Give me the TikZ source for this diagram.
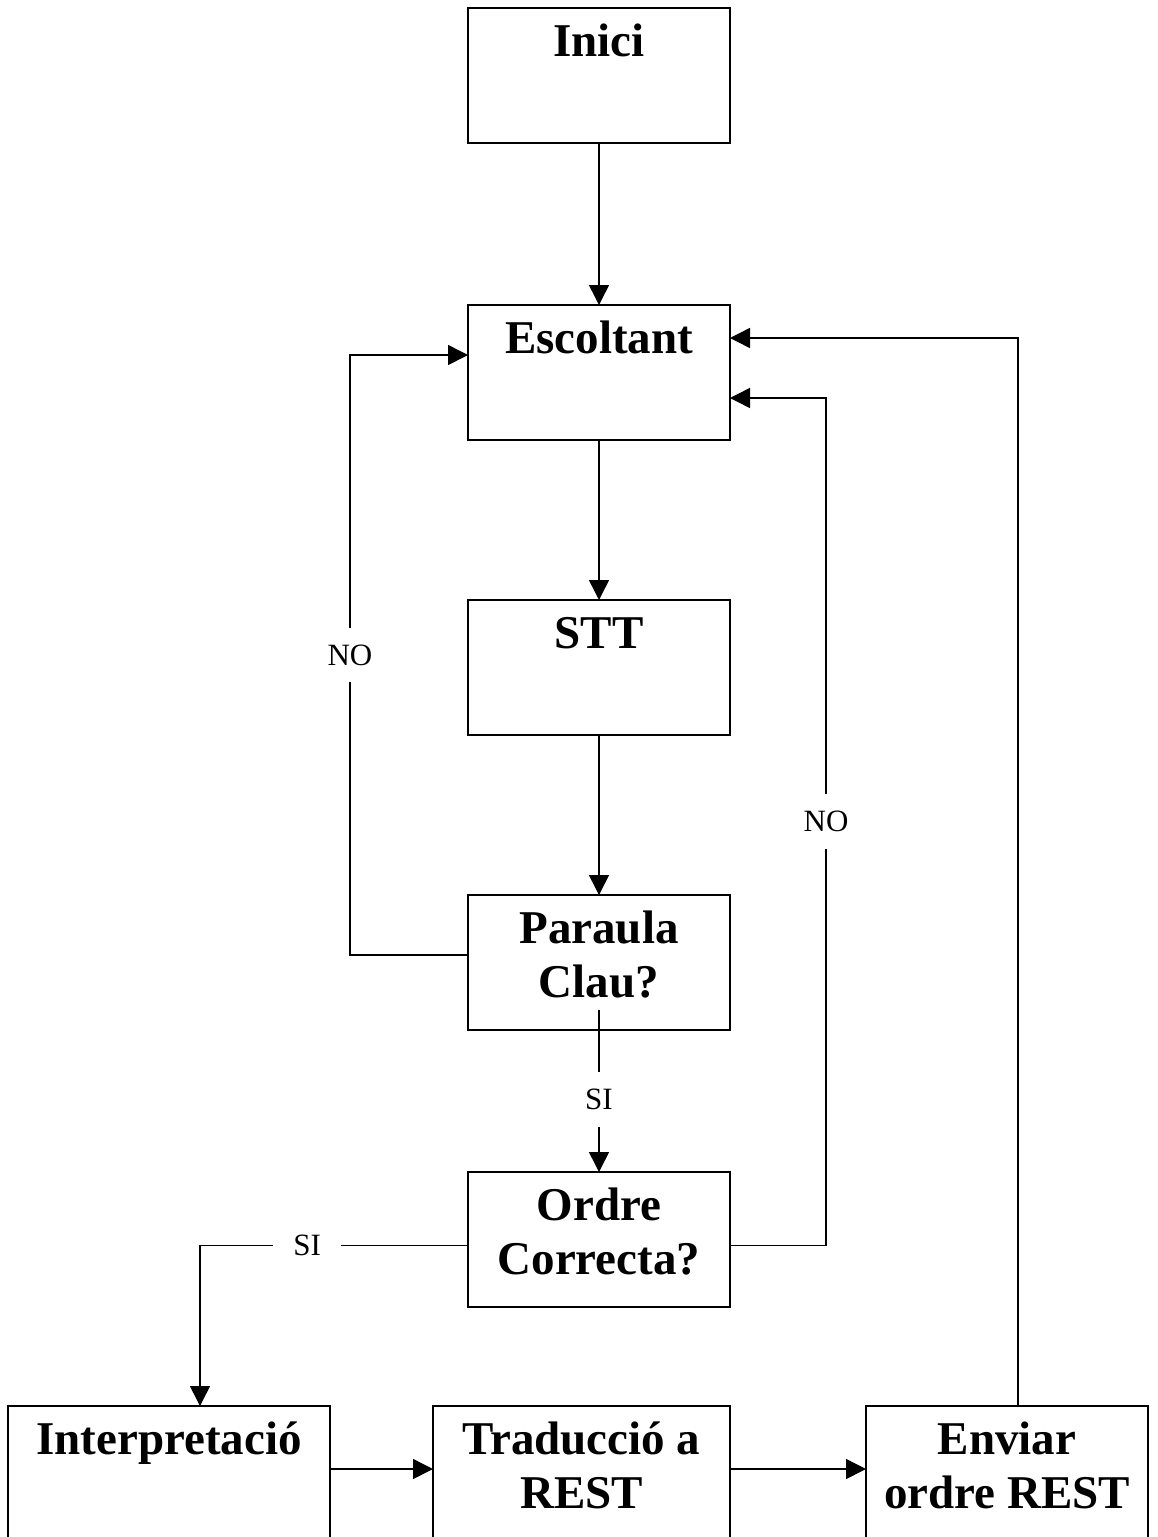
\documentclass[tikz,border=0pt]{standalone}
\usepackage{fontspec}
\setmainfont{Liberation Serif}
\usetikzlibrary{arrows.meta,positioning}
\newcommand{\vcstage}[2][250pt]{\parbox[c][135pt][t]{#1}{\centering\rule{0pt}{48pt}#2}}
\tikzset{
  vcbox/.style={
    draw=black,
    line width=1.9pt,
    inner sep=0pt,
    outer sep=0pt,
    minimum width=262pt,
    minimum height=135pt,
    font=\bfseries\fontsize{47}{54}\selectfont
  },
  vclabel/.style={
    fill=white,
    inner xsep=20pt,
    inner ysep=17pt,
    font=\fontsize{31}{34}\selectfont
  },
  vcarrow/.style={-{Triangle[length=20pt,width=20pt]},line width=1.5pt,draw=black}
}

\begin{document}
\begin{tikzpicture}[node distance=160pt]
    \useasboundingbox (0,0) rectangle (1157pt,-1537pt);
    \node[vcbox] (inici) at (599pt,-75.5pt) {\vcstage{Inici}};
    \node[vcbox,below=162pt of inici] (escoltant) {\vcstage{Escoltant}};
    \node[vcbox,below=of escoltant] (stt) {\vcstage{STT}};
    \node[vcbox,below=of stt] (paraula) {\vcstage{Paraula\\Clau?}};
    \node[vcbox,below=142pt of paraula] (ordre) {\vcstage{Ordre\\Correcta?}};
    \node[vcbox,minimum width=297pt,below=99pt of ordre,xshift=-17.5pt] (traduccio) {\vcstage[285pt]{Traducció a\\REST}};
    \node[vcbox,minimum width=322pt,left=103pt of traduccio] (interp) {\vcstage[310pt]{Interpretació}};
    \node[vcbox,minimum width=282pt,right=136pt of traduccio] (enviar) {\vcstage[275pt]{Enviar\\ordre REST}};
    \draw[vcarrow] (inici) -- (escoltant);
    \draw[vcarrow] (escoltant) -- (stt);
    \draw[vcarrow] (stt) -- (paraula);
    \draw[vcarrow] ([yshift=20pt]paraula.south) -- node[vclabel,pos=0.55] {SI} (ordre);
    \draw[vcarrow] ([yshift=7.5pt]paraula.west) -- ++(-118pt,0) |- node[vclabel,pos=0.25] {NO} ([yshift=17.5pt]escoltant.west);
    \draw[vcarrow] ([yshift=-6pt]ordre.east) -- ++(96pt,0) |- node[vclabel,pos=0.25] {NO} ([yshift=-25.5pt]escoltant.east);
    \draw[vcarrow] ([yshift=-6pt]ordre.west) -| node[vclabel,pos=0.3] {SI} ([xshift=31pt]interp.north);
    \draw[vcarrow] ([yshift=4.5pt]interp.east) -- ([yshift=4.5pt]traduccio.west);
    \draw[vcarrow] ([yshift=4.5pt]traduccio.east) -- ([yshift=4.5pt]enviar.west);
    \draw[vcarrow] ([xshift=11pt]enviar.north) |- ([yshift=34.5pt]escoltant.east);
  \end{tikzpicture}
\end{document}
